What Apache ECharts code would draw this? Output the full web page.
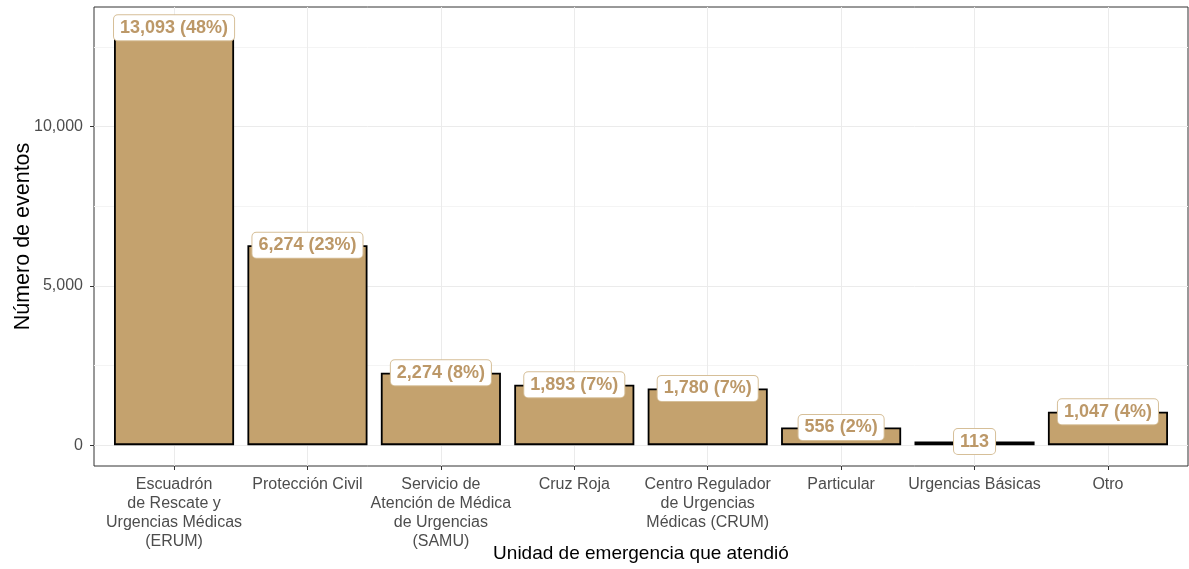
<!DOCTYPE html>
<html><head><meta charset="utf-8">
<script src="https://cdn.jsdelivr.net/npm/echarts@6/dist/echarts.min.js"></script>
<style>html,body{margin:0;padding:0;background:#fff}#c{width:1189px;height:569px}</style>
</head><body><div id="c"></div>
<script>
const categories = ["Escuadrón\nde Rescate y\nUrgencias Médicas\n(ERUM)", "Protección Civil", "Servicio de\nAtención de Médica\nde Urgencias\n(SAMU)", "Cruz Roja", "Centro Regulador\nde Urgencias\nMédicas (CRUM)", "Particular", "Urgencias Básicas", "Otro"];
const values = [13093, 6274, 2274, 1893, 1780, 556, 113, 1047];
const labels = ["13,093 (48%)", "6,274 (23%)", "2,274 (8%)", "1,893 (7%)", "1,780 (7%)", "556 (2%)", "113", "1,047 (4%)"];
const yTicks = [0, 5000, 10000];
const yMinor = [2500, 7500, 12500];

const positions = categories.map((c, i) => i + 1);
const maxV = Math.max(...values);
const yMin = -0.05 * maxV, yMax = maxV * 1.05;
const font = '"Liberation Sans", Arial, sans-serif';

const chart = echarts.init(document.getElementById('c'), null, {renderer: 'canvas'});
chart.setOption({
  animation: false,
  grid: {left: 94, right: 1, top: 7, bottom: 103, show: true, borderColor: '#333333', borderWidth: 1, backgroundColor: '#fff',
    containLabel: false, outerBoundsMode: 'none'},
  xAxis: {
    type: 'value', min: 0.4, max: 8.6,
    name: 'Unidad de emergencia que atendió', nameLocation: 'middle', nameGap: 78, nameMoveOverlap: false,
    nameTextStyle: {fontFamily: font, fontSize: 19, color: '#000'},
    axisLine: {show: false, onZero: false},
    axisTick: {show: true, length: 4, customValues: positions, lineStyle: {color: '#333333', width: 1}},
    axisLabel: {customValues: positions, margin: 9, fontFamily: font, fontSize: 16, lineHeight: 19, color: '#4D4D4D',
      formatter: v => categories[Math.round(v) - 1] || ''},
    splitLine: {show: true, lineStyle: {color: '#EBEBEB', width: 1}}
  },
  yAxis: [{
    type: 'value', min: yMin, max: yMax,
    name: 'Número de eventos', nameLocation: 'middle', nameGap: 60, nameMoveOverlap: false,
    nameTextStyle: {fontFamily: font, fontSize: 21.5, color: '#000'},
    axisLine: {show: false, onZero: false},
    axisTick: {show: true, length: 4, customValues: yTicks, lineStyle: {color: '#333333', width: 1}},
    axisLabel: {customValues: yTicks, margin: 11, fontFamily: font, fontSize: 16, color: '#4D4D4D',
      formatter: v => v.toLocaleString('en-US')},
    splitLine: {show: true, lineStyle: {color: '#EBEBEB', width: 1}}
  }, {
    type: 'value', min: yMin, max: yMax, position: 'left',
    axisLine: {show: false, onZero: false}, axisLabel: {show: false},
    axisTick: {show: false, customValues: yMinor},
    splitLine: {show: true, lineStyle: {color: '#F4F4F4', width: 1}}
  }],
  series: [{
    type: 'bar', barWidth: '90%',
    data: values.map((v, i) => [positions[i], v]),
    itemStyle: {color: '#C4A26E', borderColor: '#000', borderWidth: 1.8},
    z: 2
  }, {
    type: 'scatter', symbolSize: 0, itemStyle: {color: 'rgba(0,0,0,0)', opacity: 1},
    data: values.map((v, i) => [positions[i], v]),
    label: {show: true, position: 'inside', formatter: p => labels[p.dataIndex],
      fontFamily: font, fontSize: 18, fontWeight: 'bold', color: '#BC9868', lineHeight: 20,
      backgroundColor: '#ffffff', borderColor: '#D6BF98', borderWidth: 1, borderRadius: 4, padding: [3, 6, 2, 6]},
    z: 5
  }]
});
</script></body></html>
